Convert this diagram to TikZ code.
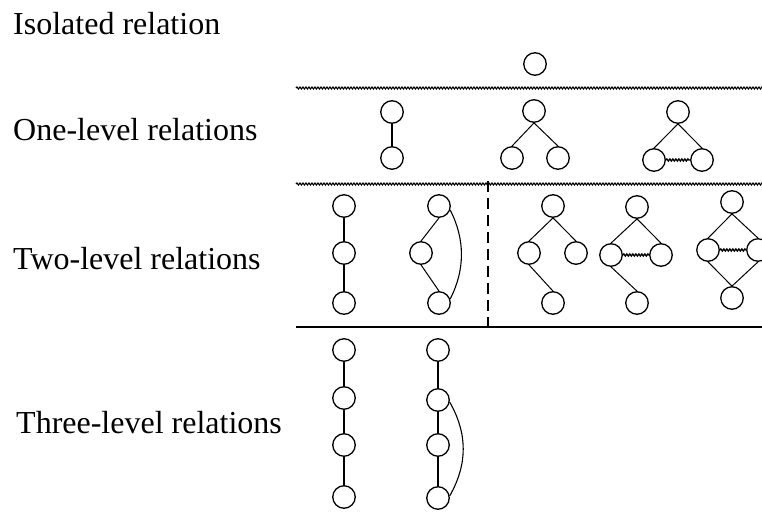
\documentclass[tikz,border=0pt]{standalone}
\usepackage{fontspec}
\setmainfont{Liberation Serif}
\usetikzlibrary{decorations.pathmorphing}
\begin{document}
\begin{tikzpicture}[x=1pt,y=-1pt,
  vtx/.style={circle,draw,line width=1.3pt,minimum size=22.5pt,inner sep=0pt},
  edge/.style={line width=1pt},
  vedge/.style={line width=1.4pt},
  wavy/.style={decorate,decoration={snake,amplitude=1pt,segment length=3pt},line width=1.1pt},
  wedge/.style={decorate,decoration={snake,amplitude=1pt,segment length=3pt},line width=1.4pt},
  arcedge/.style={line width=1.1pt},
  lbl/.style={anchor=base west,inner sep=0pt,font=\fontsize{32}{38}\selectfont}]
\useasboundingbox (0,0) rectangle (762,518);

% labels
\node[lbl] (l0) at (13,35) {Isolated relation};
\node[lbl] (l1) at (13,141) {One-level relations};
\node[lbl] (l2) at (13,270) {Two-level relations};
\node[lbl] (l3) at (16,433) {Three-level relations};

% separators
\coordinate (s1a) at (296,88);  \coordinate (s1b) at (764,88);
\coordinate (s2a) at (296,184); \coordinate (s2b) at (764,184);
\coordinate (s3a) at (296,327); \coordinate (s3b) at (764,327);
\coordinate (d1) at (488,181);  \coordinate (d2) at (488,331);
\draw[wavy] (s1a) -- (s1b);
\draw[wavy] (s2a) -- (s2b);
\draw[line width=2pt] (s3a) -- (s3b);
\draw[line width=1.5pt,dash pattern=on 11pt off 6pt] (d1) -- (d2);

% isolated
\node[vtx] (iso) at (535,64) {};

% one-level: pair
\node[vtx] (pa) at (392,112) {};
\node[vtx] (pb) at (392,158) {};
\draw[vedge] (pa) -- (pb);
% one-level: fork
\node[vtx] (fa) at (534,111) {};
\node[vtx] (fb) at (512,158) {};
\node[vtx] (fc) at (558,158) {};
\draw[edge] (fa.south) -- (fb.north);
\draw[edge] (fa.south) -- (fc.north);
% one-level: triangle
\node[vtx] (ta) at (678,112) {};
\node[vtx] (tb) at (654,160) {};
\node[vtx] (tc) at (702,160) {};
\draw[edge] (ta.south) -- (tb.north);
\draw[edge] (ta.south) -- (tc.north);
\draw[wedge] (tb.east) -- (tc.west);

% two-level: chain
\node[vtx] (ca) at (344,206) {};
\node[vtx] (cb) at (344,253) {};
\node[vtx] (cc) at (344,303) {};
\draw[vedge] (ca) -- (cb);
\draw[vedge] (cb) -- (cc);
% two-level: arc
\node[vtx] (aa) at (439,206) {};
\node[vtx] (ab) at (421,253) {};
\node[vtx] (ac) at (439,303) {};
\draw[edge] (aa.south) -- (ab.north);
\draw[edge] (ab.south) -- (ac.north);
\draw[arcedge] (aa.-20) .. controls +(15,29) and +(15,-29) .. (ac.20);
% two-level: tree
\node[vtx] (ra) at (553,206) {};
\node[vtx] (rb) at (529,253) {};
\node[vtx] (rc) at (576,253) {};
\node[vtx] (rd) at (553,303) {};
\draw[edge] (ra.south) -- (rb.north);
\draw[edge] (ra.south) -- (rc.north);
\draw[edge] (rb.south) -- (rd.north);
% two-level: triangle with child
\node[vtx] (ea) at (637,207) {};
\node[vtx] (eb) at (611,255) {};
\node[vtx] (ec) at (661,255) {};
\node[vtx] (ed) at (637,303) {};
\draw[edge] (ea.south) -- (eb.north);
\draw[edge] (ea.south) -- (ec.north);
\draw[edge] (eb.south) -- (ed.north);
\draw[wedge] (eb.east) -- (ec.west);
% two-level: diamond
\node[vtx] (ga) at (732,202) {};
\node[vtx] (gb) at (708,250) {};
\node[vtx] (gc) at (758,250) {};
\node[vtx] (gd) at (732,298) {};
\draw[edge] (ga.south) -- (gb.north);
\draw[edge] (ga.south) -- (gc.north);
\draw[edge] (gb.south) -- (gd.north);
\draw[edge] (gc.south) -- (gd.north);
\draw[wedge] (gb.east) -- (gc.west);

% three-level: chain
\node[vtx] (ka) at (344,350) {};
\node[vtx] (kb) at (344,398) {};
\node[vtx] (kc) at (344,445) {};
\node[vtx] (kd) at (344,497) {};
\draw[vedge] (ka) -- (kb);
\draw[vedge] (kb) -- (kc);
\draw[vedge] (kc) -- (kd);
% three-level: chain with arc
\node[vtx] (ma) at (438,350) {};
\node[vtx] (mb) at (438,400) {};
\node[vtx] (mc) at (438,445) {};
\node[vtx] (md) at (438,498) {};
\draw[vedge] (ma) -- (mb);
\draw[vedge] (mb) -- (mc);
\draw[vedge] (mc) -- (md);
\draw[arcedge] (mb.-10) .. controls +(18,32) and +(18,-32) .. (md.10);
\end{tikzpicture}
\end{document}
